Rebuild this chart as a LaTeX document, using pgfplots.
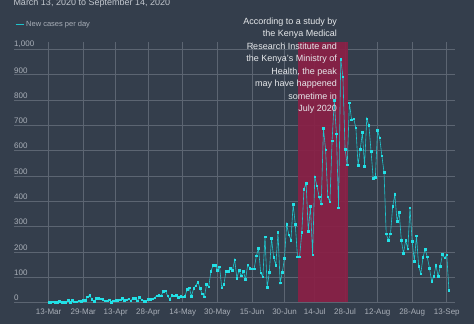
\documentclass[border=0pt]{standalone}
\usepackage{pgfplots}
\pgfplotsset{compat=1.18}
\usepackage{fontspec}
\setmainfont{Liberation Sans}
\definecolor{bg}{HTML}{343E4C}
\definecolor{gridc}{HTML}{5C6572}
\definecolor{band}{HTML}{8A2046}
\definecolor{linec}{HTML}{1FC4CC}
\definecolor{markc}{HTML}{22E0E6}
\definecolor{ticktext}{HTML}{A9AFB8}
\definecolor{annot}{HTML}{E6E8EB}
\definecolor{subt}{HTML}{C3C8CF}

\pgfplotstableread{
day val
0 1
1 0
2 2
3 0
4 0
5 4
6 0
7 0
8 0
9 8
10 1
11 9
12 3
13 3
14 7
15 4
16 8
17 9
18 22
19 29
20 12
21 4
22 16
23 16
24 14
25 12
26 7
27 6
28 11
29 1
30 7
31 9
32 9
33 11
34 17
35 8
36 11
37 15
38 7
39 17
40 16
41 7
42 20
43 11
44 5
45 5
46 12
47 13
48 15
49 19
50 26
51 28
52 26
53 45
54 47
55 26
56 13
57 28
58 26
59 28
60 21
61 24
62 23
63 24
64 52
65 58
66 24
67 55
68 66
69 81
70 55
71 34
72 22
73 72
74 62
75 124
76 147
77 147
78 128
79 141
80 58
81 72
82 124
83 124
84 136
85 128
86 169
87 96
88 128
89 105
90 123
91 91
92 149
93 136
94 134
95 134
96 184
97 214
98 118
99 102
100 260
101 60
102 119
103 254
104 178
105 148
106 277
107 78
108 120
109 174
110 309
111 268
112 247
113 389
114 309
115 180
116 181
117 277
118 447
119 472
120 281
121 380
122 188
123 497
124 461
125 418
126 390
127 689
128 604
129 418
130 398
131 639
132 799
133 667
134 374
135 962
136 893
137 606
138 544
139 789
140 723
141 727
142 690
143 543
144 605
145 672
146 538
147 727
148 700
149 598
150 492
151 496
152 680
153 651
154 580
155 515
156 272
157 246
158 272
159 380
160 427
161 322
162 356
163 246
164 194
165 246
166 212
167 374
168 242
169 164
170 264
171 144
172 114
173 178
174 211
175 180
176 136
177 84
178 103
179 148
180 103
181 143
182 190
183 176
184 188
185 48
}\cases

\begin{document}
\begin{tikzpicture}[x=1pt,y=1pt]
\fill[bg] (0,0) rectangle (474,324);
\path[use as bounding box] (0,0) rectangle (474,324);
\begin{axis}[
  at={(14pt,21.5pt)}, anchor=south west,
  scale only axis, width=441pt, height=260.5pt,
  xmin=-16, xmax=187.8, ymin=0, ymax=1030,
  axis line style={draw=none},
  major tick length=0pt,
  xtick={0,16,31,46,62,78,94,109,123,137,152,168,184},
  xticklabels={13-Mar,29-Mar,13-Apr,28-Apr,14-May,30-May,15-Jun,30-Jun,14-Jul,28-Jul,12-Aug,28-Aug,13-Sep},
  ytick={0,100,...,1000},
  grid=major,
  major grid style={gridc, line width=0.8pt},
  tick label style={font=\fontsize{8}{9}\selectfont, text=ticktext},
  yticklabel style={anchor=south west, inner sep=0pt, yshift=1.5pt},
  xticklabel style={anchor=north, yshift=-3pt},
  /pgf/number format/assume math mode=true,
  /pgf/number format/1000 sep={,},
  legend style={at={(0.0023,1.0664)}, anchor=west, draw=none, fill=none,
    text=ticktext, font=\fontsize{7.5}{9}\selectfont, inner sep=0pt, outer sep=0pt},
  legend image code/.code={\draw[linec, line width=1.2pt] (0pt,0pt) -- (8pt,0pt);},
]
\addplot[draw=none, fill=band, fill opacity=0.92, forget plot] coordinates {(115.4,1030) (138.2,1030)} \closedcycle;
\addplot[linec, line width=0.6pt, mark=square*, mark size=0.8pt,
  mark options={draw=markc, fill=markc}] table[x=day, y=val] {\cases};
\addlegendentry{New cases per day}
\end{axis}
\node[anchor=base west, text=subt, font=\fontsize{9}{11}\selectfont, inner sep=0pt] at (13.3,318.5) {March 13, 2020 to September 14, 2020};
\node[anchor=north east, align=right, text=annot, font=\fontsize{9}{12.5}\selectfont, inner sep=0pt] at (337,306.5)
{According to a study by\\the Kenya Medical\\Research Institute and\\the Kenya's Ministry of\\Health, the peak\\may have happened\\sometime in\\July 2020};
\end{tikzpicture}
\end{document}
